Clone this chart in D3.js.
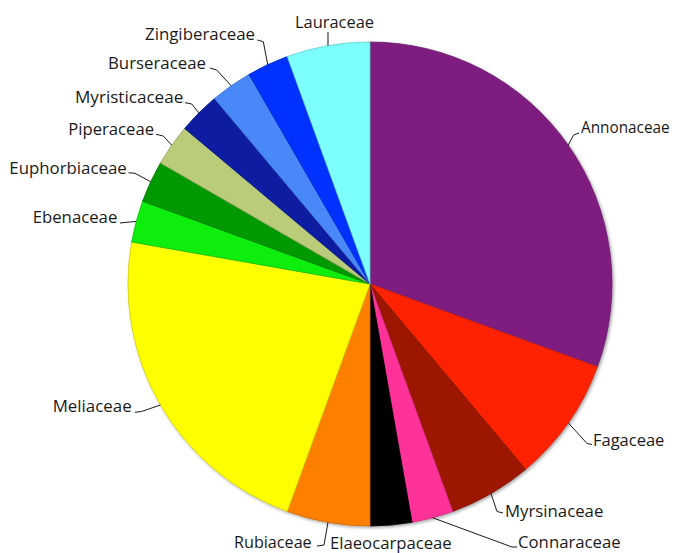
<!DOCTYPE html>
<html>
<head>
<meta charset="utf-8">
<script src="https://cdn.jsdelivr.net/npm/d3@7"></script>
<style>
  html, body { margin: 0; padding: 0; background: #fff; }
  svg { display: block; }
</style>
</head>
<body>
<svg id="chart" width="680" height="553"></svg>
<script>
// ---- data ----
const families = ["Annonaceae","Fagaceae","Myrsinaceae","Connaraceae","Elaeocarpaceae","Rubiaceae","Meliaceae","Ebenaceae","Euphorbiaceae","Piperaceae","Myristicaceae","Burseraceae","Zingiberaceae","Lauraceae"];
const counts = [11, 3, 2, 1, 1, 2, 8, 1, 1, 1, 1, 1, 1, 2];
const colors = ["#7F1F80","#FF2400","#9C1600","#FF3399","#000000","#FF8000","#FFFF00","#11EE11","#009900","#BACC7A","#0C1FA0","#4A88F8","#0533FF","#7DFFFF"];

// ---- layout (label placement: text anchor point, text width and leader elbow) ----
const labelLayout = [
  {x:581, y:133, w:88.6, anchor:"start", path:[[573.5,135],[579,133]]},
  {x:593, y:446, w:71.3, anchor:"start", path:[[587,443.5],[592,444.5]]},
  {x:505, y:517, w:98.3, anchor:"start", path:[[497,511.5],[503,513]]},
  {x:518, y:548, w:102.7, anchor:"start", path:[[512,547],[517,547]]},
  {x:330, y:548.5, w:121.7, anchor:"start", path:null},
  {x:234, y:548, w:77.7, anchor:"start", path:[[324,545],[317,546]]},
  {x:52.7, y:412, w:79, anchor:"start", path:[[141.5,411.5],[135,412.3]]},
  {x:32.7, y:223, w:84.6, anchor:"start", path:[[120,223]]},
  {x:9.3, y:174, w:117.4, anchor:"start", path:[[135,173.3],[128.5,172.7]]},
  {x:68.3, y:135, w:85.7, anchor:"start", path:[[163.3,136],[156,134.3]]},
  {x:75, y:103, w:108.3, anchor:"start", path:[[191.7,104],[185,102.7]]},
  {x:108, y:68.5, w:98, anchor:"start", path:[[216.7,70],[210,68]]},
  {x:145, y:39.5, w:110, anchor:"start", path:[[263.3,41.7],[257.3,40]]},
  {x:295, y:28, w:79, anchor:"start", path:[[328,32]]}
];

const cx = 370, cy = 284, R = 242;
const svg = d3.select("#chart");

const defs = svg.append("defs");
const f = defs.append("filter").attr("id","shadow").attr("x","-10%").attr("y","-10%").attr("width","120%").attr("height","120%");
f.append("feDropShadow").attr("dx",1.5).attr("dy",1.5).attr("stdDeviation",1.5).attr("flood-color","#000").attr("flood-opacity",0.35);

const data = families.map((name,i)=>({name, value:counts[i], color:colors[i]}));
const pie = d3.pie().value(d=>d.value).sort(null);
const arcs = pie(data);
const arc = d3.arc().innerRadius(0).outerRadius(R);
const rimArc = d3.arc().innerRadius(R).outerRadius(R);

const g = svg.append("g").attr("transform",`translate(${cx},${cy})`);
const slices = g.append("g").attr("filter","url(#shadow)");
slices.selectAll("path.slice").data(arcs).join("path")
  .attr("class","slice")
  .attr("d",arc)
  .attr("fill",d=>d.data.color)
  .attr("stroke",d=>d3.color(d.data.color).darker(0.6))
  .attr("stroke-width",0.8)
  .attr("stroke-linejoin","round");

// leaders
const lg = svg.append("g").attr("fill","none").attr("stroke","#1a1a1a").attr("stroke-width",1);
arcs.forEach((a,i)=>{
  const L = labelLayout[i];
  if(!L.path) return;
  const c = rimArc.centroid(a);
  const pts = [[cx+c[0], cy+c[1]], ...L.path];
  lg.append("path").attr("d", d3.line()(pts));
});

// labels
svg.append("g").selectAll("text").data(arcs).join("text")
  .attr("x",(d,i)=>labelLayout[i].x)
  .attr("y",(d,i)=>labelLayout[i].y)
  .attr("text-anchor",(d,i)=>labelLayout[i].anchor)
  .attr("textLength",(d,i)=>labelLayout[i].w)
  .attr("lengthAdjust","spacingAndGlyphs")
  .attr("font-family","'Open Sans', Lato, sans-serif")
  .attr("font-size",16)
  .attr("fill","#1a1a1a")
  .text(d=>d.data.name);
</script>
</body>
</html>
